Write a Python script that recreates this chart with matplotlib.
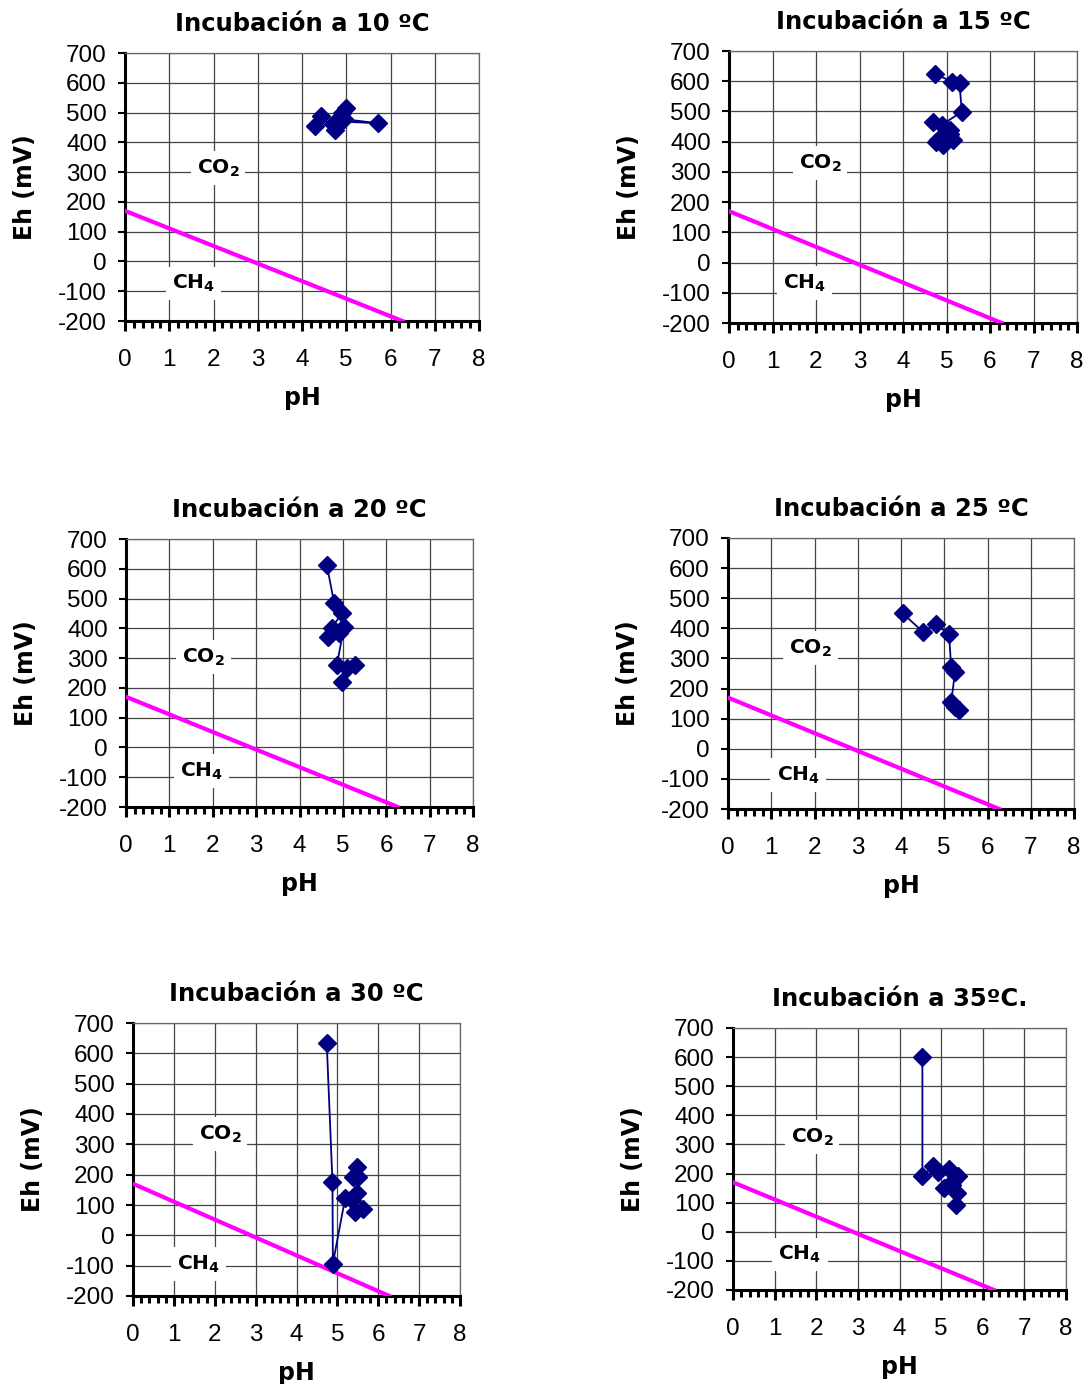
import matplotlib
matplotlib.use("Agg")
import matplotlib.pyplot as plt
from matplotlib.ticker import MultipleLocator

plt.rcParams['font.family'] = ['Liberation Sans', 'DejaVu Sans']
plt.rcParams['axes.unicode_minus'] = False
plt.rcParams['mathtext.fontset'] = 'dejavusans'

# titulos de cada incubacion
titles = ["Incubación a 10 ºC", "Incubación a 15 ºC", "Incubación a 20 ºC",
          "Incubación a 25 ºC", "Incubación a 30 ºC", "Incubación a 35ºC."]

# datos pH / Eh
ph_10 = [4.30, 4.42, 4.75, 4.82, 4.90, 5.00, 4.85, 5.72, 4.95, 4.70]
eh_10 = [455, 489, 442, 475, 500, 514, 470, 464, 478, 462]
ph_15 = [4.74, 5.12, 5.30, 5.35, 4.89, 4.70, 5.08, 5.08, 4.81, 4.93, 5.16, 4.77]
eh_15 = [624, 599, 594, 499, 455, 466, 440, 424, 407, 390, 407, 400]
ph_20 = [4.63, 4.80, 4.97, 4.74, 4.66, 4.92, 5.03, 4.86, 5.28, 5.09, 4.97]
eh_20 = [613, 484, 450, 400, 370, 384, 406, 277, 277, 266, 221]
ph_25 = [4.04, 4.50, 4.80, 5.11, 5.16, 5.25, 5.16, 5.25, 5.33]
eh_25 = [450, 389, 414, 380, 272, 255, 155, 139, 128]
ph_30 = [4.74, 4.88, 4.89, 5.19, 5.35, 5.43, 5.62, 5.47, 5.51, 5.39, 5.47]
eh_30 = [633, 176, -93, 122, 116, 78, 86, 138, 193, 193, 226]
ph_35 = [4.55, 4.55, 4.81, 4.93, 5.20, 5.41, 5.29, 5.08, 5.25, 5.39, 5.36]
eh_35 = [599, 190, 226, 206, 214, 190, 176, 150, 162, 134, 91]

ph_data = [ph_10, ph_15, ph_20, ph_25, ph_30, ph_35]
eh_data = [eh_10, eh_15, eh_20, eh_25, eh_30, eh_35]

# limite CO2 / CH4
line_ph = [0, 6.27]
line_eh = [170, -200]

# posicion de las etiquetas CO2 y CH4 (pH, Eh)
co2_pos = [(2.1, 314), (2.09, 329), (1.78, 304), (1.9, 335), (2.13, 334), (1.9, 326)]
ch4_pos = [(1.54, -75), (1.74, -68), (1.75, -79), (1.62, -87), (1.61, -95), (1.61, -77)]

# cajas de los ejes en pixeles: izquierda, derecha, arriba, abajo
boxes = [(125, 479, 53, 321), (729, 1077, 51, 323), (126, 473, 539, 807),
         (728, 1074, 538, 809), (133, 460, 1023, 1296), (733, 1066, 1028, 1290)]

W, H = 1091, 1384
fig = plt.figure(figsize=(W / 100, H / 100), dpi=100)

bold = dict(family='DejaVu Sans', fontweight='bold')

for i in range(6):
    l, r, t, b = boxes[i]
    ax = fig.add_axes([l / W, 1 - b / H, (r - l) / W, (b - t) / H])
    ax.set_xlim(0, 8)
    ax.set_ylim(-200, 700)
    ax.xaxis.set_major_locator(MultipleLocator(1))
    ax.xaxis.set_minor_locator(MultipleLocator(0.2))
    ax.yaxis.set_major_locator(MultipleLocator(100))
    ax.grid(True, which='major', color='#444444', linewidth=0.9)
    ax.set_axisbelow(True)
    for s in ['top', 'right']:
        ax.spines[s].set_color('#666666')
        ax.spines[s].set_linewidth(0.9)
    for s in ['left', 'bottom']:
        ax.spines[s].set_linewidth(2.2)
    ax.tick_params(axis='x', which='major', direction='out', length=7, width=2.2,
                   labelsize=17.5, pad=13)
    ax.tick_params(axis='x', which='minor', direction='out', length=5, width=2.2)
    ax.tick_params(axis='y', which='major', direction='out', length=5, width=1.5,
                   labelsize=17.5, pad=8)

    ax.plot(line_ph, line_eh, color='#FF00FF', linewidth=3, zorder=3)
    ax.plot(ph_data[i], eh_data[i], color='#000080', linewidth=1.3, marker='D',
            markersize=9, zorder=4)

    bb = dict(boxstyle='square,pad=0.3', facecolor='white', edgecolor='none')
    ax.text(co2_pos[i][0], co2_pos[i][1], r'CO$_\mathbf{2}$', fontsize=14.5,
            ha='center', va='center', bbox=bb, zorder=2, **bold)
    ax.text(ch4_pos[i][0], ch4_pos[i][1], r'CH$_\mathbf{4}$', fontsize=14.5,
            ha='center', va='center', bbox=bb, zorder=2, **bold)

    ax.set_title(titles[i], fontsize=17.5, pad=16, **bold)
    ax.set_xlabel('pH', fontsize=17, labelpad=11, **bold)
    ax.set_ylabel('Eh (mV)', fontsize=17, labelpad=15, **bold)

fig.savefig('out.png', dpi=100)
